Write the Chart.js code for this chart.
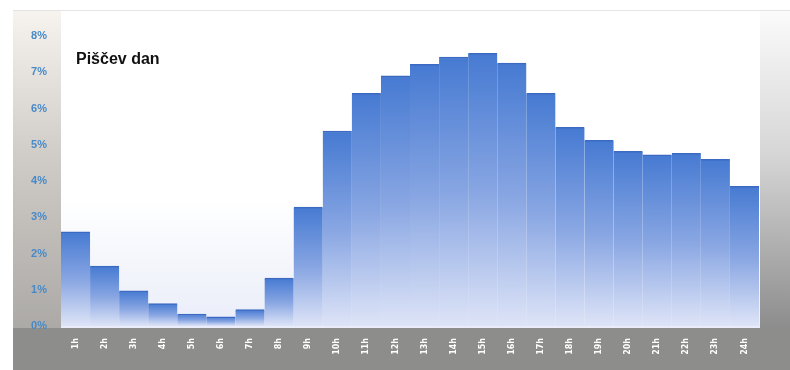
<!DOCTYPE html>
<html>
<head>
<meta charset="utf-8">
<script src="https://cdn.jsdelivr.net/npm/chart.js@4"></script>
<style>
  body { margin: 0; background: #fff; }
  #wrap { width: 790px; height: 370px; }
</style>
</head>
<body>
<div id="wrap"><canvas id="chart" width="790" height="370"></canvas></div>
<script>
  hours = ['1h','2h','3h','4h','5h','6h','7h','8h','9h','10h','11h','12h',
           '13h','14h','15h','16h','17h','18h','19h','20h','21h','22h','23h','24h']
  share = [2.6, 1.65, 0.97, 0.62, 0.33, 0.25, 0.45, 1.32, 3.28, 5.38, 6.42, 6.9,
           7.22, 7.42, 7.52, 7.25, 6.42, 5.48, 5.12, 4.82, 4.72, 4.76, 4.6, 3.85]
  yTicks = [0,1,2,3,4,5,6,7,8]
  title = 'Piščev dan'

  // gray frame round the plot, drawn before the bars
  const frame = {
    id: 'frame',
    beforeDraw: (chart) => {
      const {ctx, chartArea: {top, bottom, left, right}} = chart;
      const W = chart.width, H = chart.height;
      ctx.save();
      ctx.fillStyle = '#ffffff';
      ctx.fillRect(0, 0, W, H);

      // left panel
      let g = ctx.createLinearGradient(0, 10, 0, H);
      g.addColorStop(0, '#f7f4ef');
      g.addColorStop(0.4, '#d0ccc7');
      g.addColorStop(1, '#a3a19f');
      ctx.fillStyle = g;
      ctx.fillRect(13, 10, left - 13, H - 10);

      // right strip
      g = ctx.createLinearGradient(0, 10, 0, H);
      g.addColorStop(0, '#fbfbfb');
      g.addColorStop(0.4, '#d6d6d6');
      g.addColorStop(1, '#7b7b7b');
      ctx.fillStyle = g;
      ctx.fillRect(right + 1, 10, W - right - 1, H - 10);

      // bottom strip
      ctx.fillStyle = '#8d8d8b';
      ctx.fillRect(13, bottom + 2, W - 13, H - bottom - 2);

      // plot background
      g = ctx.createLinearGradient(0, 12, 0, bottom);
      g.addColorStop(0, '#ffffff');
      g.addColorStop(0.6, '#ffffff');
      g.addColorStop(1, '#eaedf9');
      ctx.fillStyle = g;
      ctx.fillRect(left, 12, right - left + 1, bottom - 12 + 2);

      ctx.strokeStyle = '#e4e4e4';
      ctx.beginPath();
      ctx.moveTo(13, 10.5);
      ctx.lineTo(W, 10.5);
      ctx.stroke();
      ctx.restore();
    },
    afterDraw: (chart) => {
      const {ctx, chartArea: {top, left}} = chart;
      ctx.save();
      ctx.fillStyle = '#ffffff';
      ctx.fillRect(left + 12, top + 6, 130, 34);
      ctx.fillStyle = '#111111';
      ctx.font = 'bold 16px "Liberation Sans", Arial, sans-serif';
      ctx.textBaseline = 'middle';
      ctx.fillText(title, left + 15, top + 24);
      ctx.restore();
    }
  };

  function barFill(context) {
    const chart = context.chart;
    if (!chart.chartArea) return '#6f97da';
    const y = chart.scales.y;
    const top = y.getPixelForValue(context.raw);
    const base = y.getPixelForValue(0);
    const g = chart.ctx.createLinearGradient(0, top, 0, base);
    g.addColorStop(0, 'rgb(70,122,210)');
    g.addColorStop(0.5, 'rgb(135,165,226)');
    g.addColorStop(1, 'rgb(222,228,247)');
    return g;
  }

  var chart = new Chart('chart', {
    type: 'bar',
    data: {
      labels: hours,
      datasets: [{
        data: share,
        backgroundColor: barFill,
        borderColor: 'rgb(60,106,194)',
        borderWidth: {top: 1.5, left: 0, right: 0, bottom: 0},
        borderSkipped: 'start',
        barPercentage: 1,
        categoryPercentage: 1
      }]
    },
    options: {
      responsive: false,
      animation: false,
      layout: { padding: { left: 0, right: 31, top: 36, bottom: 0 } },
      plugins: {
        legend: { display: false },
        tooltip: { enabled: false }
      },
      scales: {
        x: {
          grid: { display: false },
          border: { display: false },
          afterFit: (s) => { s.height = 44; },
          ticks: {
            color: '#ffffff',
            font: { size: 8, weight: 'bold', family: '"DejaVu Sans", sans-serif' },
            minRotation: 90,
            maxRotation: 90,
            padding: 4,
            autoSkip: false
          }
        },
        y: {
          min: 0,
          max: 8,
          afterFit: (s) => { s.width = 61; },
          afterBuildTicks: (s) => { s.ticks = yTicks.map(v => ({value: v})); },
          grid: { display: false },
          border: { display: false },
          ticks: {
            color: 'rgb(72,138,200)',
            font: { size: 11, weight: 'bold', family: '"Liberation Sans Narrow", "Liberation Sans", Arial, sans-serif' },
            padding: 6,
            callback: (v) => v + '%'
          }
        }
      }
    },
    plugins: [frame]
  });
</script>
</body>
</html>
